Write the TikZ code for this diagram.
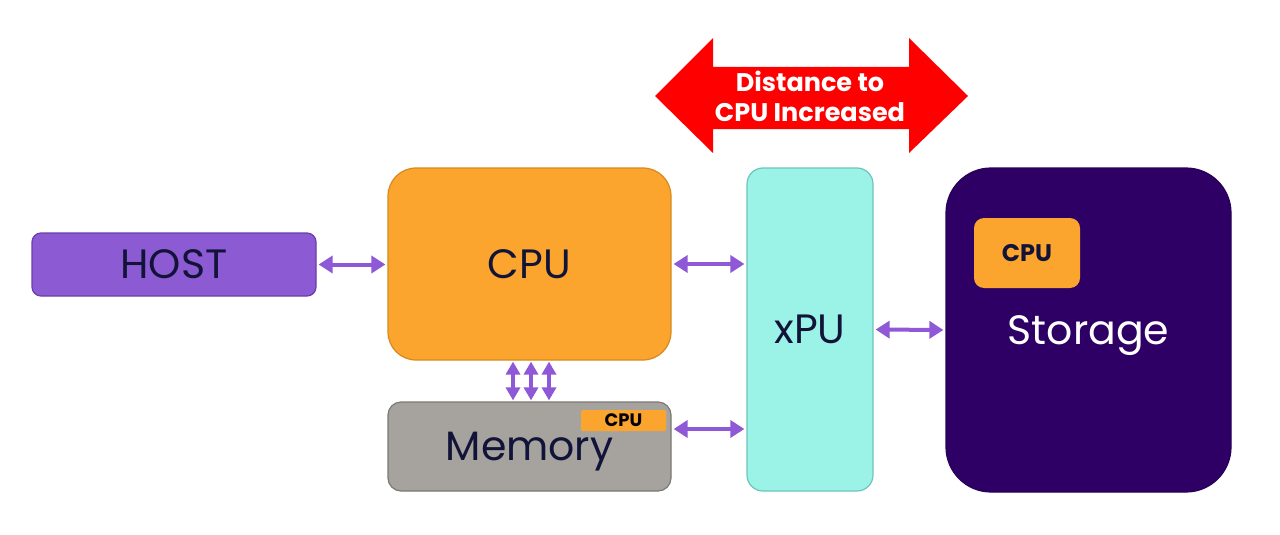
\documentclass[tikz,border=0pt]{standalone}
\usepackage{fontspec}
\setmainfont{Poppins}
\usetikzlibrary{arrows.meta}
\definecolor{hostfill}{HTML}{8C5AD2}
\definecolor{hostline}{HTML}{6A3DB0}
\definecolor{cpufill}{HTML}{FBA42E}
\definecolor{cpuline}{HTML}{D88A1E}
\definecolor{memfill}{HTML}{A6A39E}
\definecolor{memline}{HTML}{7C7974}
\definecolor{xpufill}{HTML}{9BF2E7}
\definecolor{xpuline}{HTML}{6DC6BB}
\definecolor{stofill}{HTML}{2E0066}
\definecolor{navy}{HTML}{111438}
\definecolor{linkc}{HTML}{8E58D6}
\definecolor{alertred}{HTML}{FF0000}
\begin{document}
\begin{tikzpicture}[x=1pt,y=-1pt,
  box/.style={draw, line width=1.2pt, inner sep=0pt, text depth=0pt, text=navy, font=\fontsize{41}{41}\selectfont},
  tag/.style={fill=cpufill, inner sep=0pt, text=black, font=\bfseries\fontsize{18}{18}\selectfont},
  link/.style={draw=linkc, line width=4pt, {Triangle[width=17pt,length=14pt]}-{Triangle[width=17pt,length=14pt]}, shorten >=2pt, shorten <=2pt},
  vlink/.style={draw=linkc, line width=4pt, {Triangle[width=14pt,length=13pt]}-{Triangle[width=14pt,length=13pt]}, shorten >=1pt, shorten <=1pt}]
\useasboundingbox (0,0) rectangle (1280,535);
\fill[white] (0,0) rectangle (1280,535);

% red double arrow
\fill[alertred] (655,96) -- (713,38) -- (713,67) -- (909,67) -- (909,38) -- (968,96)
  -- (909,153) -- (909,129) -- (713,129) -- (713,153) -- cycle;
\node[text=white, font=\bfseries\fontsize{25.5}{30}\selectfont, align=center] (dist) at (810,96) {Distance to\\CPU Increased};

% boxes
\node[box, fill=hostfill, draw=hostline, rounded corners=9pt, minimum width=284pt, minimum height=63pt] (host) at (174,264.5) {HOST};
\node[box, fill=cpufill, draw=cpuline, rounded corners=28pt, minimum width=283pt, minimum height=192pt] (cpu) at (529.5,264) {CPU};
\node[box, fill=memfill, draw=memline, rounded corners=13pt, minimum width=283pt, minimum height=89pt] (mem) at (529.5,446.5) {Memory};
\node[tag, rounded corners=2pt, minimum width=85pt, minimum height=21pt] (memcpu) at (623.5,420.5) {CPU};
\node[box, fill=xpufill, draw=xpuline, rounded corners=16pt, minimum width=126pt, minimum height=323pt] (xpu) at (810,329.5) {xPU};
\node[box, fill=stofill, draw=stofill!85!black, text=white, rounded corners=45pt, minimum width=285pt, minimum height=324pt] (sto) at (1088.5,330) {Storage};
\node[tag, rounded corners=10pt, minimum width=106pt, minimum height=70pt, font=\bfseries\fontsize{24}{24}\selectfont, text=navy] (stocpu) at (1027,253) {CPU};

% connectors
\draw[link] (host.east) -- (cpu.west |- host.east);
\draw[link] (cpu.east) -- (xpu.west |- cpu.east);
\draw[link] ([yshift=17.5pt]mem.east) coordinate (m1) -- (m1 -| xpu.west);
\draw[link] (xpu.east) -- (sto.west);
\foreach \dx in {-16.5,1.5,19.5}
  \draw[vlink] ([xshift=\dx pt]cpu.south) -- ([xshift=\dx pt]mem.north);
\end{tikzpicture}
\end{document}
